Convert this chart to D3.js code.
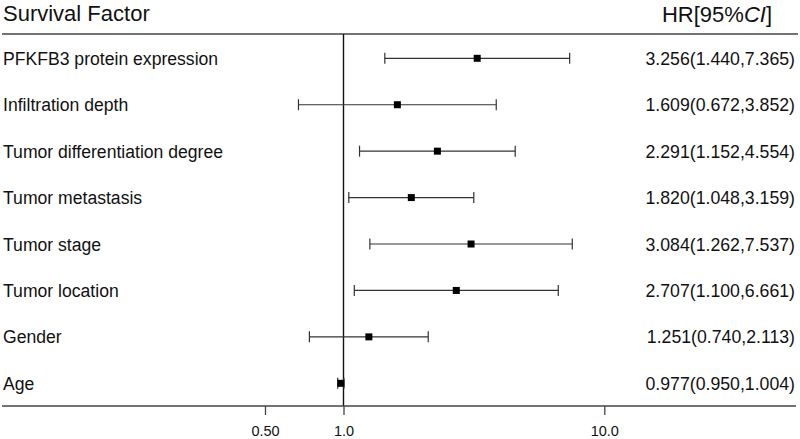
<!DOCTYPE html>
<html>
<head>
<meta charset="utf-8">
<script src="https://cdn.jsdelivr.net/npm/d3@7/dist/d3.min.js"></script>
<style>
  html, body { margin: 0; padding: 0; background: #fff; }
  svg { display: block; font-family: "Liberation Sans", Arial, sans-serif; }
</style>
</head>
<body>
<svg id="chart" width="800" height="439"></svg>
<script>
// ---- data ----
const factors = [
  "PFKFB3 protein expression",
  "Infiltration depth",
  "Tumor differentiation degree",
  "Tumor metastasis",
  "Tumor stage",
  "Tumor location",
  "Gender",
  "Age"
];
const hr    = [3.256, 1.609, 2.291, 1.820, 3.084, 2.707, 1.251, 0.977];
const lower = [1.440, 0.672, 1.152, 1.048, 1.262, 1.100, 0.740, 0.950];
const upper = [7.365, 3.852, 4.554, 3.159, 7.537, 6.661, 2.113, 1.004];
const tickValues = [0.5, 1, 10];
const tickLabels = ["0.50", "1.0", "10.0"];
const headerLeft = "Survival Factor";

// ---- layout ----
const svg = d3.select("#chart");
const x = d3.scaleLog().domain([1, 10]).range([343.5, 604.3]);
const y = d3.scalePoint().domain(factors).range([58.3, 383.3]);
const ink = "#111";
const lineCol = "#444";

// top rule
svg.append("line").attr("x1", 2).attr("x2", 798).attr("y1", 34).attr("y2", 34)
  .attr("stroke", lineCol).attr("stroke-width", 1.3);

// headers
svg.append("text").attr("x", 3).attr("y", 21).attr("font-size", 22).attr("fill", ink)
  .text(headerLeft);
const hdr = svg.append("text").attr("x", 772).attr("y", 22).attr("font-size", 22)
  .attr("fill", ink).attr("text-anchor", "end");
hdr.append("tspan").text("HR[95%");
hdr.append("tspan").attr("font-style", "italic").text("CI");
hdr.append("tspan").text("]");

// reference line at HR = 1
svg.append("line").attr("x1", x(1)).attr("x2", x(1)).attr("y1", 34).attr("y2", 406)
  .attr("stroke", ink).attr("stroke-width", 1.4);

// axis
svg.append("line").attr("x1", 2).attr("x2", 796).attr("y1", 406).attr("y2", 406)
  .attr("stroke", lineCol).attr("stroke-width", 1.3);
const axis = d3.axisBottom(x).tickValues(tickValues)
  .tickFormat((d, i) => tickLabels[i]).tickSize(9).tickPadding(11);
const ag = svg.append("g").attr("transform", "translate(0,406)").call(axis);
ag.select(".domain").remove();
ag.selectAll(".tick line").attr("stroke", lineCol).attr("stroke-width", 1.3);
ag.selectAll(".tick text").attr("font-size", 14.5).attr("fill", ink)
  .attr("font-family", "Liberation Sans, Arial, sans-serif");

// rows
const rows = svg.append("g").selectAll("g").data(factors).join("g")
  .attr("transform", d => `translate(0,${y(d)})`);

rows.append("text").attr("x", 3).attr("y", 6.5).attr("font-size", 17.6).attr("fill", ink)
  .text(d => d);

rows.append("text").attr("x", 795).attr("y", 6.5).attr("font-size", 17.7).attr("fill", ink)
  .attr("text-anchor", "end")
  .text((d, i) => `${hr[i].toFixed(3)}(${lower[i].toFixed(3)},${upper[i].toFixed(3)})`);

rows.append("line")
  .attr("x1", (d, i) => x(lower[i])).attr("x2", (d, i) => x(upper[i]))
  .attr("stroke", "#333").attr("stroke-width", 1.2);
rows.append("line")
  .attr("x1", (d, i) => x(lower[i])).attr("x2", (d, i) => x(lower[i]))
  .attr("y1", -5.5).attr("y2", 5.5).attr("stroke", "#333").attr("stroke-width", 1.2);
rows.append("line")
  .attr("x1", (d, i) => x(upper[i])).attr("x2", (d, i) => x(upper[i]))
  .attr("y1", -5.5).attr("y2", 5.5).attr("stroke", "#333").attr("stroke-width", 1.2);
rows.append("rect")
  .attr("x", (d, i) => x(hr[i]) - 3.5).attr("y", -3.5)
  .attr("width", 7).attr("height", 7).attr("fill", "#000");
</script>
</body>
</html>
